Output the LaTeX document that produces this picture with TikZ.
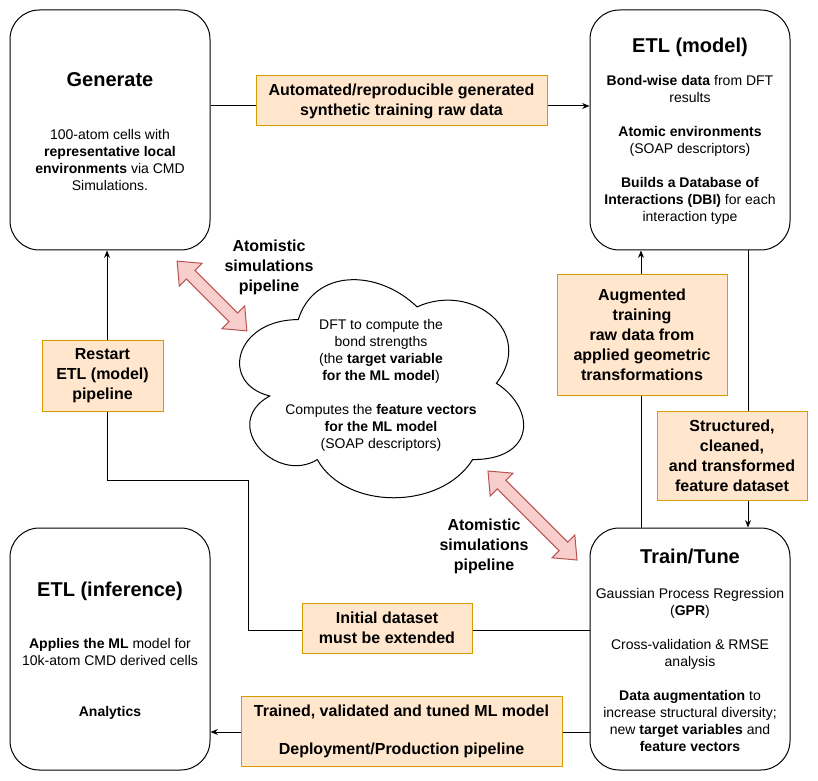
\documentclass[tikz,border=0pt]{standalone}
\usepackage{fontspec}
\setmainfont{Liberation Sans}
\usetikzlibrary{arrows.meta,shapes.arrows}
\definecolor{lblfill}{HTML}{FFE6CC}
\definecolor{lbldraw}{HTML}{D79B00}
\definecolor{simfill}{HTML}{F8CECC}
\definecolor{simdraw}{HTML}{B85450}

\begin{document}
\begin{tikzpicture}
[x=0.75pt,y=-0.75pt,line width=0.75pt,
stage/.style={draw,rounded corners=22pt,minimum width=150pt,minimum height=180pt},
ttl/.style={font=\fontsize{15}{18}\selectfont\bfseries},
txt/.style={align=center,font=\fontsize{10.5}{12.75}\selectfont},
lbl/.style={draw=lbldraw,fill=lblfill,align=center,inner sep=0pt,font=\fontsize{12}{15}\selectfont\bfseries},
atom/.style={align=center,font=\fontsize{12}{15}\selectfont\bfseries},
flow/.style={-{Stealth[length=5.5pt,width=4.5pt]}},
sim/.style={double arrow,draw=simdraw,fill=simfill,rotate=-45,inner xsep=0pt,inner ysep=4.2pt,double arrow head extend=7.5pt,double arrow tip angle=80}]
\useasboundingbox (0,0) rectangle (818,781);

% stages
\node[stage] (gen) at (110,130) {};
\node[stage] (etlm) at (690,130) {};
\node[stage,minimum height=181.5pt] (train) at (690,649) {};
\node[stage,minimum height=181.5pt] (etli) at (110,649) {};

\node[ttl] (gent) at (110,80) {Generate};
\node[txt] (genb) at (110,160) {100-atom cells with\\\textbf{representative local}\\\textbf{environments} via CMD\\Simulations.};
\node[ttl] (etlmt) at (690,47) {ETL (model)};
\node[txt] (etlmb) at (690,149.5) {\textbf{Bond-wise data} from DFT\\results\\[12.75pt]\textbf{Atomic environments}\\(SOAP descriptors)\\[12.75pt]\textbf{Builds a Database of}\\\textbf{Interactions (DBI)} for each\\interaction type};
\node[ttl] (traint) at (690,556) {Train/Tune};
\node[txt] (trainb) at (690,669.5) {Gaussian Process Regression\\(\textbf{GPR})\\[12.75pt]Cross-validation \& RMSE\\analysis\\[12.75pt]\textbf{Data augmentation} to\\increase structural diversity;\\new \textbf{target variables} and\\\textbf{feature vectors}};
\node[ttl] (etlit) at (110,591) {ETL (inference)};
\node[txt] (etlib) at (110,679) {\textbf{Applies the ML} model for\\10k-atom CMD derived cells\\[25.5pt]\textbf{Analytics}};

% cloud
\draw[fill=white] (298.25,319.6) .. controls (234.85,319.6) and (219,383.25) .. (269.7,396)
 .. controls (219,424) and (276.1,485.1) .. (317.3,459.6)
 .. controls (345.8,510.5) and (440.9,510.5) .. (472.6,459.6)
 .. controls (536,459.6) and (536,408.7) .. (496.4,383.25)
 .. controls (536,332.35) and (472.6,281.45) .. (417.1,306.9)
 .. controls (377.5,268.7) and (314.1,268.7) .. (298.25,319.6) -- cycle;
\node[txt] (dft) at (381,385.5) {DFT to compute the\\bond strengths\\(the \textbf{target variable}\\\textbf{for the ML model})\\[12.75pt]Computes the \textbf{feature vectors}\\\textbf{for the ML model}\\(SOAP descriptors)};

% simulation arrows
\node[sim,minimum height=74pt] (sim1) at (212,296) {};
\node[sim,minimum height=94.4pt] (sim2) at (532.5,515.5) {};
\node[atom] (atom1) at (269,267) {Atomistic\\simulations\\pipeline};
\node[atom] (atom2) at (484,546) {Atomistic\\simulations\\pipeline};

% flows
\coordinate (back) at (248,480);
\draw[flow] ([yshift=18pt]gen.east) -- ([yshift=18pt]etlm.west);
\draw[flow] ([xshift=43.5pt]etlm.south) -- ([xshift=43.5pt]train.north);
\draw[flow] ([xshift=-36.75pt]train.north) -- ([xshift=-36.75pt]etlm.south);
\draw[flow] ([yshift=14.25pt]train.west) -| (back) -| ([xshift=-2.25pt]gen.south);
\draw[flow] ([yshift=-62.25pt]train.west) -- ([yshift=-62.25pt]etli.east);

% labels
\node[lbl,minimum width=218.25pt,minimum height=37.5pt] (lblraw) at (401.5,101) {Automated/reproducible generated\\synthetic training raw data};
\node[lbl,minimum width=127.5pt,minimum height=90pt] (lblaug) at (642,335) {Augmented\\training\\raw data from\\applied geometric\\transformations};
\node[lbl,minimum width=112.5pt,minimum height=66.75pt] (lblstruct) at (732,455.5) {Structured,\\cleaned,\\and transformed\\feature dataset};
\node[lbl,minimum width=90.75pt,minimum height=53.25pt] (lblrestart) at (102.5,375.5) {Restart\\ETL (model)\\pipeline};
\node[lbl,minimum width=127.5pt,minimum height=37.5pt] (lblinit) at (387,628) {Initial dataset\\must be extended};
\node[lbl,minimum width=240.75pt,minimum height=52.5pt] (lblmodel) at (401.5,731) {Trained, validated and tuned ML model\\[13.5pt]Deployment/Production pipeline};
\end{tikzpicture}
\end{document}
